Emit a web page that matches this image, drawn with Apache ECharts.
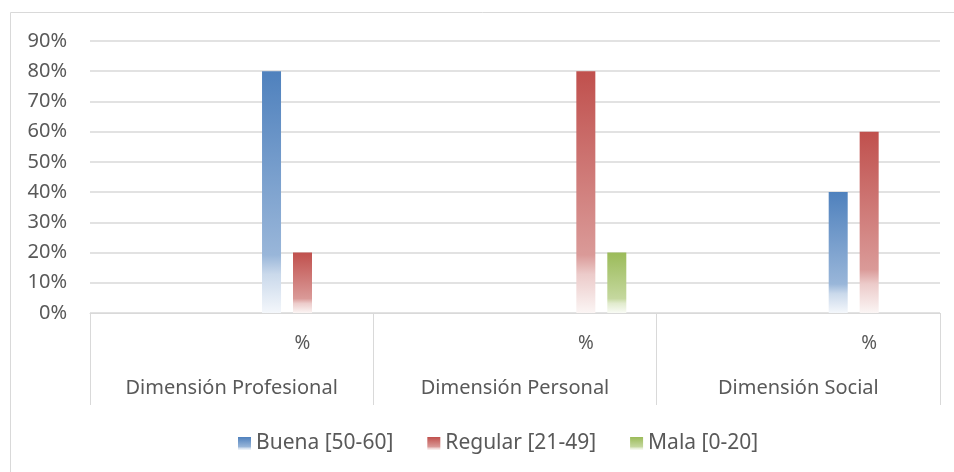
<!DOCTYPE html>
<html><head><meta charset="utf-8">
<script src="https://cdn.jsdelivr.net/npm/echarts@6/dist/echarts.min.js"></script>
<style>html,body{margin:0;padding:0;background:#fff}#c{width:954px;height:472px}</style>
</head><body><div id="c"></div>
<script>
const groups = ['Dimensión Profesional', 'Dimensión Personal', 'Dimensión Social'];
const subCategories = ['', '%', '', '%', '', '%'];
const seriesNames = ['Buena [50-60]', 'Regular [21-49]', 'Mala [0-20]'];
const buena = [null, 80, null, 0, null, 40];
const regular = [null, 20, null, 80, null, 60];
const mala = [null, 0, null, 20, null, 0];
const yTicks = [0, 10, 20, 30, 40, 50, 60, 70, 80, 90];

const baseColors = ['#4F81BD', '#C0504D', '#9BBB59'];
function mix(hex, t) {
  const n = parseInt(hex.slice(1), 16);
  const r = n >> 16, g = (n >> 8) & 255, b = n & 255;
  const f = v => Math.round(v + (255 - v) * t);
  return 'rgb(' + f(r) + ',' + f(g) + ',' + f(b) + ')';
}
function grad(hex) {
  return new echarts.graphic.LinearGradient(0, 0, 0, 1, [
    { offset: 0, color: hex },
    { offset: 0.76, color: mix(hex, 0.42) },
    { offset: 0.84, color: mix(hex, 0.7) },
    { offset: 1, color: mix(hex, 0.94) }
  ]);
}
const font = '"Noto Sans", "Open Sans", sans-serif';
const txt = '#595959';
const chart = echarts.init(document.getElementById('c'));
const dataSets = [buena, regular, mala];
chart.setOption({
  animation: false,
  textStyle: { fontFamily: font },
  graphic: [{ type: 'rect', shape: { x: 10.5, y: 12.5, width: 960, height: 480 }, style: { fill: 'none', stroke: '#D9D9D9', lineWidth: 1 }, silent: true }],
  grid: { left: 90, right: 14, top: 41, bottom: 159 },
  legend: {
    top: 428, left: 233, icon: 'rect', itemWidth: 13, itemHeight: 13, itemGap: 34,
    textStyle: { color: txt, fontSize: 21, fontFamily: font },
    data: seriesNames
  },
  xAxis: [
    {
      type: 'category', data: subCategories, position: 'bottom',
      axisLine: { show: true, lineStyle: { color: '#D9D9D9', width: 1 } },
      axisTick: { show: false },
      axisLabel: { color: txt, fontSize: 19, fontFamily: font, margin: 21, interval: 0 }
    },
    {
      type: 'category', data: groups, position: 'bottom',
      axisLine: { show: false },
      axisTick: { show: true, length: 92, lineStyle: { color: '#D9D9D9' } },
      axisLabel: { color: txt, fontSize: 20, fontFamily: font, margin: 65, interval: 0 }
    }
  ],
  yAxis: {
    type: 'value', min: 0, max: 90, interval: 10,
    axisLabel: { formatter: v => yTicks.includes(v) ? v + '%' : '', color: txt, fontSize: 20, fontFamily: font, margin: 23 },
    axisLine: { show: false }, axisTick: { show: false },
    splitLine: { lineStyle: { color: '#D9D9D9', width: 1.5 } }
  },
  series: seriesNames.map((n, i) => ({
    name: n, type: 'bar', xAxisIndex: 0, data: dataSets[i],
    barWidth: 19, barGap: '63%',
    itemStyle: { color: grad(baseColors[i]) }
  }))
});
</script></body></html>
